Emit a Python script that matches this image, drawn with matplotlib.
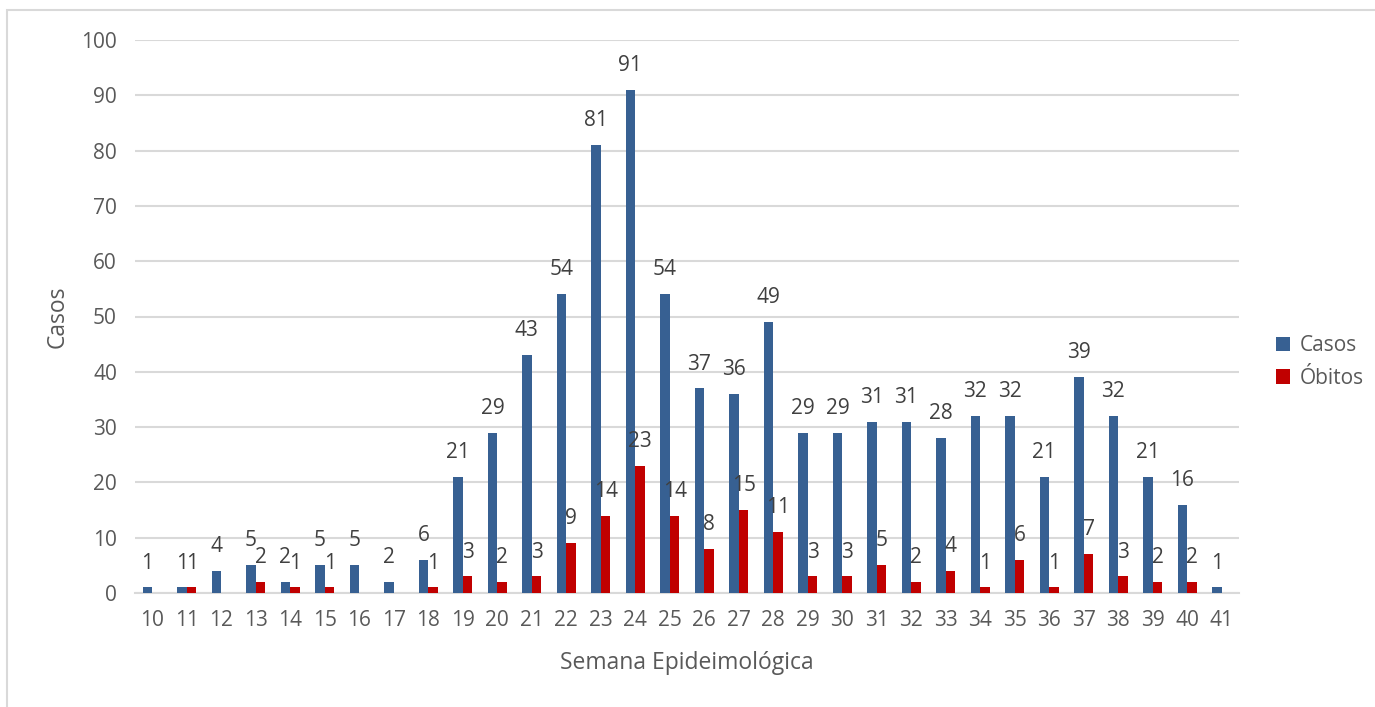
import matplotlib
matplotlib.use("Agg")
import matplotlib.pyplot as plt
from matplotlib.patches import Rectangle
import numpy as np

semanas = list(range(10, 42))
casos = [1, 1, 4, 5, 2, 5, 5, 2, 6, 21, 29, 43, 54, 81, 91, 54, 37, 36, 49,
         29, 29, 31, 31, 28, 32, 32, 21, 39, 32, 21, 16, 1]
obitos = [0, 1, 0, 2, 1, 1, 0, 0, 1, 3, 2, 3, 9, 14, 23, 14, 8, 15, 11,
          3, 3, 5, 2, 4, 1, 6, 1, 7, 3, 2, 2, 0]

plt.rcParams['font.family'] = ['Open Sans', 'DejaVu Sans']
text_color = '#595959'
color_casos = '#376092'
color_obitos = '#C00000'
fs = 15

fig = plt.figure(figsize=(13.75, 7.07), dpi=100)
ax = fig.add_axes([135 / 1375, 1 - 593 / 707, 1104 / 1375, 553 / 707])

x = np.arange(len(semanas))
w = 0.28
b1 = ax.bar(x - w / 2, casos, w, color=color_casos, label='Casos', zorder=3)
b2 = ax.bar(x + w / 2, obitos, w, color=color_obitos, label='Óbitos', zorder=3)

# data labels (zeros hidden, like the original)
ax.bar_label(b1, labels=[str(v) for v in casos], padding=10,
             fontsize=fs, color='#404040')
ax.bar_label(b2, labels=['' if v == 0 else str(v) for v in obitos], padding=10,
             fontsize=fs, color='#404040')

ax.set_xlim(-0.5, len(semanas) - 0.5)
ax.set_ylim(0, 100)
ax.set_yticks(range(0, 101, 10))
ax.set_xticks(x)
ax.set_xticklabels([str(s) for s in semanas])
ax.yaxis.grid(True, color='#D9D9D9', linewidth=1.5, zorder=0)
ax.set_axisbelow(True)
for side in ['top', 'right', 'left']:
    ax.spines[side].set_visible(False)
ax.spines['bottom'].set_color('#D9D9D9')
ax.spines['bottom'].set_linewidth(1.5)
ax.tick_params(axis='both', length=0, labelsize=fs, labelcolor=text_color)
ax.tick_params(axis='y', pad=13)
ax.tick_params(axis='x', pad=12)

ax.set_ylabel('Casos', fontsize=16.5, color=text_color, va='center')
ax.set_xlabel('Semana Epideimológica', fontsize=16.5, color=text_color, va='center')
ax.yaxis.set_label_coords(-77 / 1104, 0.5)
ax.xaxis.set_label_coords(0.5, -70 / 553)

ax.legend(loc='center left', bbox_to_anchor=(1257 / 1375, 1 - 362 / 707),
          bbox_transform=fig.transFigure, frameon=False, fontsize=fs,
          handlelength=0.7, handleheight=0.7, handletextpad=0.45,
          labelspacing=0.55, labelcolor=text_color)

# light frame around the chart area
fig.patches.append(Rectangle((7 / 1375, -0.1), 1.2, 1.1 - 10 / 707,
                             transform=fig.transFigure, fill=False,
                             edgecolor='#D9D9D9', linewidth=1.5))

fig.savefig('out.png', dpi=100)
